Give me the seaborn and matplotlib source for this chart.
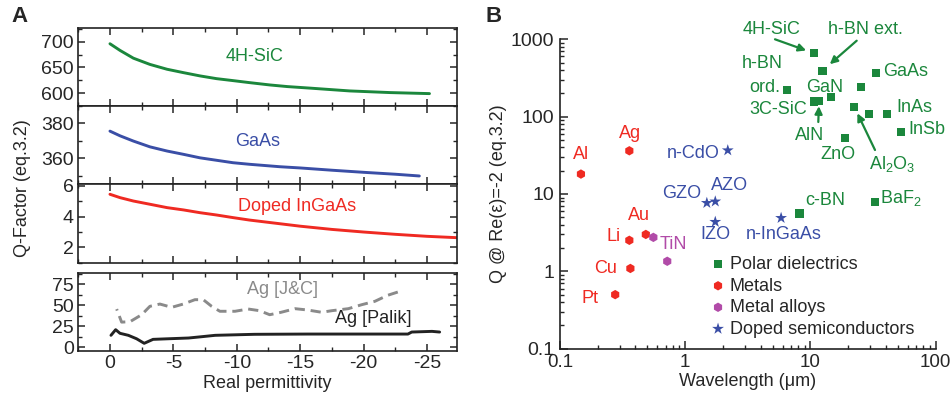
import numpy as np
import pandas as pd
import matplotlib
matplotlib.use('Agg')
import matplotlib.pyplot as plt
import seaborn as sns
from matplotlib.ticker import FixedLocator, MultipleLocator, FuncFormatter, LogLocator, NullFormatter

# ---------------- Panel A data ----------------
sic_eps = [0, -0.8, -1.85, -3.15, -4.5, -5.8, -7.1, -8.4, -9.7, -11, -12.6, -14, -15.8,
           -18.9, -22.1, -25.2]
sic_q = [696, 683, 668, 656, 646.6, 640, 633.7, 628.4, 624.6, 620.7, 616.2, 613, 610,
         604.6, 601.4, 599.4]

gaas_eps = [0, -0.8, -1.85, -3.15, -4.5, -5.8, -7.1, -8.4, -9.7, -11, -13.4, -15, -17.5,
            -20, -22.5, -24.4]
gaas_q = [375.6, 372.9, 369.9, 366.6, 364.2, 362.3, 360.3, 358.9, 357.5, 356.6, 355.2,
          354.5, 353.2, 352, 350.9, 349.9]

ingaas_eps = [0, -0.8, -1.85, -3.15, -4.5, -5.8, -7.1, -8.4, -9.7, -11, -13.4, -15, -17.5,
              -20, -22.5, -25, -27.4]
ingaas_q = [5.46, 5.24, 5.02, 4.81, 4.59, 4.44, 4.26, 4.11, 3.94, 3.78, 3.54, 3.38, 3.17,
            3.0, 2.85, 2.72, 2.63]

jc_eps = [-0.53, -0.92, -1.58, -2.5, -3.15, -3.94, -4.87, -5.78, -6.7, -7.36, -8.02,
          -8.67, -9.86, -10.9, -11.8, -12.6, -13.5, -14.6, -15.6, -16.7, -17.5, -18.8,
          -19.85, -20.9, -21.9, -22.7]
jc_q = [45.5, 30, 30.5, 38.8, 48.8, 51.5, 47.6, 51.5, 56.7, 56.7, 48.8, 42.9, 42.9,
        45.6, 43.6, 38.8, 41.7, 46, 44.4, 41.7, 43.6, 46, 50.7, 54.8, 61.9, 65.8]

palik_eps = [-0.08, -0.45, -0.79, -1.45, -2.1, -2.7, -3.4, -4.6, -6.2, -7.2, -8.3,
             -11.4, -15.6, -23.5, -23.8, -25.4, -26]
palik_q = [14.3, 21, 16.7, 14.3, 10.2, 4.8, 9.5, 10.2, 11.1, 12.6, 14.3, 15.5, 15.8,
           15.8, 18.2, 19, 18.2]

# ---------------- Panel B data ----------------
polar_names = ['4H-SiC', 'h-BN ext.', 'h-BN ord.', 'GaAs', '', 'GaN', '3C-SiC', 'AlN',
               'Al$_2$O$_3$', '', 'InAs', 'InSb', 'ZnO', 'c-BN', 'BaF$_2$']
polar_wl = [10.7, 12.5, 6.5, 33.6, 25.6, 14.7, 10.7, 11.75, 22.5, 29.2, 41.3, 52.7, 18.9, 8.2, 33.0]
polar_q = [660, 394, 222, 370, 244, 179, 157, 161, 133, 109, 109, 64, 53, 5.6, 7.9]

metal_names = ['Al', 'Ag', 'Au', 'Li', 'Cu', 'Pt']
metal_wl = [0.147, 0.358, 0.485, 0.358, 0.365, 0.276]
metal_q = [18.1, 36.2, 3.0, 2.52, 1.09, 0.50]

alloy_names = ['TiN', '']
alloy_wl = [0.557, 0.719]
alloy_q = [2.75, 1.35]

doped_names = ['n-CdO', 'GZO', 'AZO', 'IZO', 'n-InGaAs']
doped_wl = [2.19, 1.49, 1.74, 1.74, 5.84]
doped_q = [36.7, 7.66, 8.0, 4.36, 4.9]

classes = ['Polar dielectrics', 'Metals', 'Metal alloys', 'Doped semiconductors']

GREEN = '#1b873c'
RED = '#ef2a22'
MAGENTA = '#b14ba8'
BLUE = '#3a4ea6'
GRAY = '#8a8a8a'
BLACK = '#222222'

sns.set_theme(style='ticks')
plt.rcParams['font.family'] = ['Liberation Sans', 'DejaVu Sans']
plt.rcParams['mathtext.fontset'] = 'custom'
plt.rcParams['mathtext.rm'] = 'Liberation Sans'
plt.rcParams['mathtext.it'] = 'Liberation Sans'
plt.rcParams['mathtext.default'] = 'regular'
plt.rcParams['axes.unicode_minus'] = False
FS = 13
TFS = 14

W, H = 950, 403
fig = plt.figure(figsize=(W / 100, H / 100), dpi=100)


def rect(l, t, r, b):
    return [l / W, 1 - b / H, (r - l) / W, (b - t) / H]


def F(px, py):
    return (px / W, 1 - py / H)


# ---------------- Panel A ----------------
L, R = 78, 457
axA1 = fig.add_axes(rect(L, 28, R, 106))
axA2 = fig.add_axes(rect(L, 106, R, 184))
axA3 = fig.add_axes(rect(L, 184, R, 262.7))
axA4 = fig.add_axes(rect(L, 272.7, R, 350.7))

sns.lineplot(x=sic_eps, y=sic_q, ax=axA1, color=GREEN, lw=2.1)
sns.lineplot(x=gaas_eps, y=gaas_q, ax=axA2, color=BLUE, lw=2.1)
sns.lineplot(x=ingaas_eps, y=ingaas_q, ax=axA3, color=RED, lw=2.1)
sns.lineplot(x=jc_eps, y=jc_q, ax=axA4, color=GRAY, lw=2.1)
axA4.lines[-1].set_dashes((3.5, 2.0))
sns.lineplot(x=palik_eps, y=palik_q, ax=axA4, color=BLACK, lw=2.1)

ylims = [(575.4, 726.5), (345.3, 390), (1.0, 6.13), (-4, 88.8)]
yt = [[600, 650, 700], [360, 380], [2, 4, 6], [0, 25, 50, 75]]
ymin = [25, 10, 1, 12.5]
for ax, yl, t, mn in zip([axA1, axA2, axA3, axA4], ylims, yt, ymin):
    ax.set_xlim(2.52, -27.37)
    ax.set_ylim(*yl)
    ax.yaxis.set_major_locator(FixedLocator(t))
    ax.yaxis.set_minor_locator(MultipleLocator(mn))
    ax.xaxis.set_major_locator(MultipleLocator(5))
    ax.xaxis.set_minor_locator(MultipleLocator(2.5))
    ax.tick_params(which='both', direction='in', top=True, right=True, labelsize=TFS, pad=3)
    ax.tick_params(which='major', length=5, width=1.1)
    ax.tick_params(which='minor', length=3, width=1.0)
    for s in ax.spines.values():
        s.set_linewidth(1.2)
        s.set_color('#222222')
    ax.set_xlabel('')
    ax.set_ylabel('')
    if ax is not axA4:
        ax.tick_params(labelbottom=False)
axA4.xaxis.set_major_formatter(FuncFormatter(lambda v, p: '%d' % v))
axA4.set_xlabel('Real permittivity', fontsize=FS, labelpad=2)

axA1.text(0.467, 0.64, '4H-SiC', transform=axA1.transAxes, color=GREEN, fontsize=FS, ha='center', va='center')
axA2.text(0.474, 0.54, 'GaAs', transform=axA2.transAxes, color=BLUE, fontsize=FS, ha='center', va='center')
axA3.text(0.577, 0.715, 'Doped InGaAs', transform=axA3.transAxes, color=RED, fontsize=FS, ha='center', va='center')
axA4.text(0.539, 0.79, 'Ag [J&C]', transform=axA4.transAxes, color=GRAY, fontsize=FS, ha='center', va='center')
axA4.text(0.779, 0.41, 'Ag [Palik]', transform=axA4.transAxes, color=BLACK, fontsize=FS, ha='center', va='center')

fig.text(*F(23, 188), 'Q-Factor (eq.3.2)', rotation=90, ha='center', va='center', fontsize=FS)
fig.text(*F(20, 17), 'A', fontsize=16, fontweight='bold', ha='center', va='center')
fig.text(*F(494, 17), 'B', fontsize=16, fontweight='bold', ha='center', va='center')

# ---------------- Panel B ----------------
axB = fig.add_axes(rect(560, 39.3, 935.5, 348.7))
sets = [
    (classes[0], polar_wl, polar_q, 's', GREEN, 34),
    (classes[1], metal_wl, metal_q, 'h', RED, 46),
    (classes[2], alloy_wl, alloy_q, 'h', MAGENTA, 46),
    (classes[3], doped_wl, doped_q, '*', BLUE, 80),
]
for name, xs, ys, mk, col, sz in sets:
    df = pd.DataFrame({'wl': xs, 'q': ys})
    sns.scatterplot(data=df, x='wl', y='q', ax=axB, marker=mk, color=col, s=sz,
                    edgecolor='none', linewidth=0, label=name)

axB.set_xscale('log')
axB.set_yscale('log')
axB.set_xlim(0.1, 100)
axB.set_ylim(0.1, 1000)
fmt = FuncFormatter(lambda v, p: '%g' % v)
axB.xaxis.set_major_formatter(fmt)
axB.yaxis.set_major_formatter(fmt)
axB.xaxis.set_minor_locator(LogLocator(subs=np.arange(2, 10)))
axB.yaxis.set_minor_locator(LogLocator(subs=np.arange(2, 10)))
axB.xaxis.set_minor_formatter(NullFormatter())
axB.yaxis.set_minor_formatter(NullFormatter())
axB.tick_params(which='both', direction='in', labelsize=TFS, pad=4)
axB.tick_params(axis='x', labelsize=13.5)
axB.tick_params(which='major', length=6, width=1.1)
axB.tick_params(which='minor', length=3, width=1.0)
axB.spines['top'].set_visible(False)
axB.spines['right'].set_visible(False)
for s in ['left', 'bottom']:
    axB.spines[s].set_linewidth(1.2)
    axB.spines[s].set_color('#222222')
axB.set_xlabel('Wavelength (\u03bcm)', fontsize=FS, labelpad=1)
axB.set_ylabel('Q @ Re(\u03b5)=-2 (eq.3.2)', fontsize=FS, labelpad=3)

leg = axB.legend(loc='upper left', bbox_to_anchor=F(709, 256), bbox_transform=fig.transFigure,
                 frameon=False, fontsize=FS, handlelength=1.0, handletextpad=0.15,
                 labelspacing=0.25, borderpad=0, borderaxespad=0)

# point labels (positions in figure pixels)
labels = [
    ('4H-SiC', 771.7, 29.3, 'center', GREEN),
    ('h-BN ext.', 865, 29.3, 'center', GREEN),
    ('h-BN', 762.7, 63.3, 'center', GREEN),
    ('ord.', 765, 88, 'center', GREEN),
    ('GaAs', 883, 71, 'left', GREEN),
    ('GaN', 825, 87.5, 'center', GREEN),
    ('3C-SiC', 807, 109, 'right', GREEN),
    ('AlN', 809.3, 135, 'center', GREEN),
    ('ZnO', 838.3, 154, 'center', GREEN),
    ('Al$_2$O$_3$', 892, 164, 'center', GREEN),
    ('InAs', 896.5, 108, 'left', GREEN),
    ('InSb', 908, 130, 'left', GREEN),
    ('c-BN', 805, 200.5, 'left', GREEN),
    ('BaF$_2$', 880, 198, 'left', GREEN),
    ('Al', 581, 154, 'center', RED),
    ('Ag', 630, 133.3, 'center', RED),
    ('Au', 639.3, 215, 'center', RED),
    ('Li', 613.3, 236.7, 'center', RED),
    ('Cu', 606, 268.3, 'center', RED),
    ('Pt', 590, 298.3, 'center', RED),
    ('TiN', 673.3, 245, 'center', MAGENTA),
    ('n-CdO', 719.3, 153.3, 'right', BLUE),
    ('GZO', 681.7, 194, 'center', BLUE),
    ('AZO', 730, 185, 'center', BLUE),
    ('IZO', 715, 235, 'center', BLUE),
    ('n-InGaAs', 783.3, 235, 'center', BLUE),
]
for txt, px, py, ha, col in labels:
    fig.text(*F(px, py), txt, ha=ha, va='center', fontsize=FS, color=col)

# arrows: (start pixel, target polar point index, shrink)
arrows = [((775, 39.3), 0, 6), ((856.7, 40.7), 1, 7), ((818.3, 122), 7, 4), ((875, 150), 8, 5)]
for (sx, sy), idx, shr in arrows:
    axB.annotate('', xy=(polar_wl[idx], polar_q[idx]), xycoords='data',
                 xytext=F(sx, sy), textcoords='figure fraction',
                 arrowprops=dict(arrowstyle='-|>', color=GREEN, lw=1.6, shrinkA=0, shrinkB=shr,
                                 mutation_scale=11))

fig.savefig('out.png', dpi=100)
